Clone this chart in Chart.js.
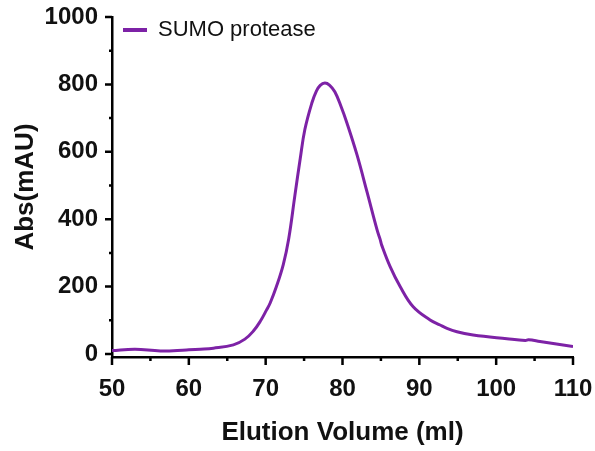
<html>
<head>
  <meta charset="utf-8">
  <script src="https://cdn.jsdelivr.net/npm/chart.js@4.4.1/dist/chart.umd.min.js"></script>
  <style>
    body { margin: 0; background: #fff; }
  </style>
</head>
<body>
<canvas id="canvas" width="595" height="451"></canvas>
<script>
// elution profile
var elutionVolume = [50, 53, 56.3, 59.7, 61.5, 63.2, 65.8, 67.3, 68.4, 69.3, 70.1, 70.6, 71.4, 72.3, 73.0, 73.8, 74.5, 75.1, 76.0, 76.6, 77.1, 77.7, 78.3, 79.0, 79.8, 80.6, 81.9, 83.2, 84.5, 84.9, 85.1, 86.2, 87.5, 89.2, 91.4, 92.7, 93.6, 94.9, 97.0, 101.4, 103.8, 104.2, 105.7, 110];
var absorbance = [10, 14, 9, 12, 14, 17, 27, 44, 68, 97, 130, 152, 200, 266, 342, 470, 580, 666, 744, 780, 797, 804, 798, 778, 735, 684, 590, 480, 368, 340, 323, 259, 200, 140, 101, 86, 76, 66, 56, 45, 40, 42, 37, 22];
var seriesName = "SUMO protease";
var xTicks = [50, 60, 70, 80, 90, 100, 110];
var yTicks = [0, 200, 400, 600, 800, 1000];

var purple = "#7d22a6";
var fontFamily = "'Liberation Sans', Arial, sans-serif";

var points = [];
for (var i = 0; i < elutionVolume.length; i++) {
  points.push({x: elutionVolume[i], y: absorbance[i]});
}

// prism style ticks: major + minor, drawn on the axes
var axisTicks = {
  id: 'axisTicks',
  afterDraw: function(chart) {
    var ctx = chart.ctx;
    var xs = chart.scales.x, ys = chart.scales.y;
    var area = chart.chartArea;
    ctx.save();
    ctx.strokeStyle = "#000";
    ctx.lineWidth = 2.5;
    ctx.beginPath();
    for (var v = 0; v <= 1000; v += 100) {
      var py = ys.getPixelForValue(v);
      var len = (v % 200 == 0) ? 7 : 3;
      ctx.moveTo(area.left - len, py);
      ctx.lineTo(area.left, py);
    }
    for (var u = 50; u <= 110; u += 5) {
      var px = xs.getPixelForValue(u);
      var len2 = (u % 10 == 0) ? 8 : 4;
      ctx.moveTo(px, area.bottom);
      ctx.lineTo(px, area.bottom + len2);
    }
    ctx.stroke();

    // legend
    var lx = area.left + 11, ly = area.top + 13;
    ctx.fillStyle = purple;
    ctx.fillRect(lx, ly - 2, 24, 4);
    ctx.fillStyle = "#111";
    ctx.font = "22px " + fontFamily;
    ctx.textBaseline = "middle";
    ctx.fillText(chart.data.datasets[0].label, lx + 35, ly);
    ctx.restore();
  }
};

function noPad(scale) {
  scale.paddingLeft = 0;
  scale.paddingRight = 0;
  scale.paddingTop = 0;
  scale.paddingBottom = 0;
}

var ctx = document.getElementById("canvas").getContext("2d");
var myLine = new Chart(ctx, {
  type: 'line',
  data: {
    datasets: [{
      label: seriesName,
      data: points,
      borderColor: purple,
      backgroundColor: purple,
      borderWidth: 3,
      pointRadius: 0,
      tension: 0.4,
      fill: false
    }]
  },
  options: {
    responsive: false,
    animation: false,
    layout: { padding: { top: 17, right: 22, left: 0, bottom: 0 } },
    plugins: {
      legend: { display: false },
      tooltip: { enabled: false }
    },
    scales: {
      x: {
        type: 'linear',
        min: 50,
        max: 110,
        afterBuildTicks: function(scale) {
          scale.ticks = xTicks.map(function(v) { return {value: v}; });
        },
        afterFit: function(scale) { scale.height = 94; noPad(scale); },
        grid: { display: false, drawTicks: false },
        border: { display: true, color: "#000", width: 2.5 },
        ticks: {
          color: "#111",
          padding: 18,
          maxRotation: 0,
          callback: function(v) { return String(v); },
          font: { family: fontFamily, size: 24, weight: 'bold' }
        },
        title: {
          display: true,
          text: "Elution Volume (ml)",
          color: "#111",
          padding: { top: 0, bottom: 3 },
          font: { family: fontFamily, size: 26, weight: 'bold' }
        }
      },
      y: {
        min: -9,
        max: 1000,
        afterBuildTicks: function(scale) {
          scale.ticks = yTicks.map(function(v) { return {value: v}; });
        },
        afterFit: function(scale) { scale.width = 112; noPad(scale); },
        grid: { display: false, drawTicks: false },
        border: { display: true, color: "#000", width: 2.5 },
        ticks: {
          color: "#111",
          padding: 14,
          callback: function(v) { return String(v); },
          font: { family: fontFamily, size: 24, weight: 'bold' }
        },
        title: {
          display: true,
          text: "Abs(mAU)",
          color: "#111",
          padding: { top: 10, bottom: 0 },
          font: { family: fontFamily, size: 26, weight: 'bold' }
        }
      }
    }
  },
  plugins: [axisTicks]
});
</script>
</body>
</html>
